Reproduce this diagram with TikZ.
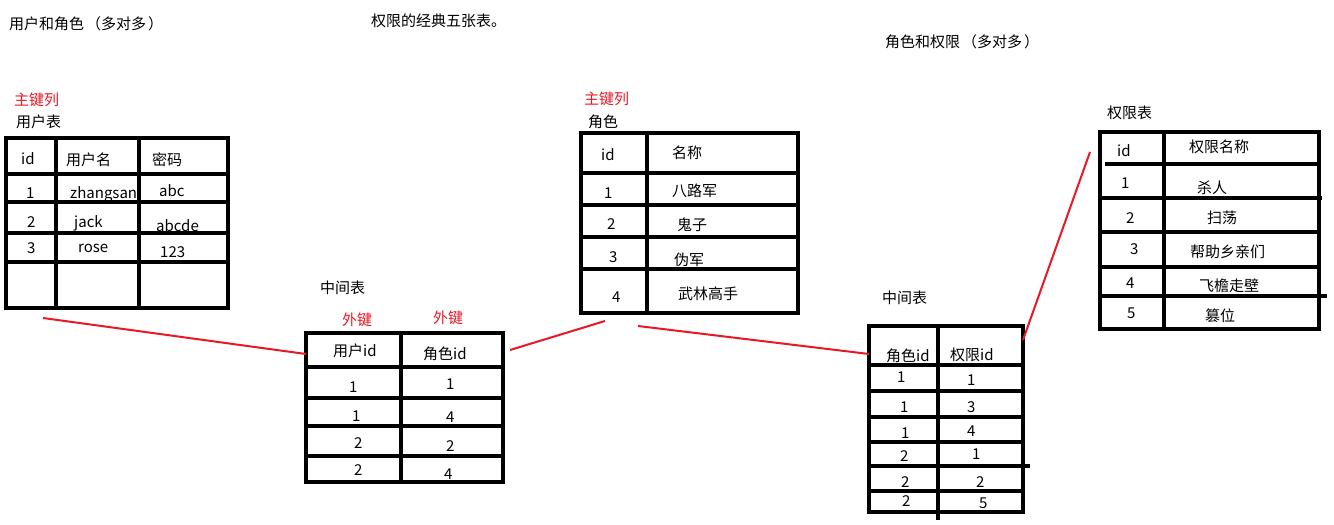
\documentclass[tikz,border=0pt]{standalone}
\usepackage{fontspec}
\setmainfont{Noto Sans CJK SC}
\definecolor{myred}{RGB}{232,24,36}
\begin{document}
\begin{tikzpicture}[x=1pt,y=-1pt,
  tbl/.style={line width=3.5pt},
  conn/.style={draw=myred,line width=2pt},
  lbl/.style={anchor=base west,inner sep=0pt,font=\fontsize{15}{18}\selectfont},
  key/.style={lbl,text=myred}]
\useasboundingbox (0,0) rectangle (1334,525);
% titles
\node[lbl] (t1) at (9,29) {用户和角色\kern2pt（多对多\kern2pt）};
\node[lbl] (t2) at (371,26) {权限的经典五张表。};
\node[lbl] (t3) at (885,47) {角色和权限\kern2pt（多对多\kern2pt）};
% ---------- user table ----------
\node[key] (uk) at (14,105) {主键列};
\node[lbl] (ut) at (16,127) {用户表};
\draw[tbl] (6,138) rectangle (228,308);
\draw[tbl] (56,138) -- (56,308) (139,138) -- (139,308);
\draw[tbl] (6,174) -- (230,174) (6,202) -- (228,202) (6,233) -- (228,233) (6,262) -- (228,262);
\node[lbl] (u00) at (21,164) {id};
\node[lbl] (u01) at (66,165) {用户名};
\node[lbl] (u02) at (152,165) {密码};
\node[lbl] (u10) at (26,198) {1};
\node[lbl] (u11) at (70,198) {zhangsan};
\node[lbl] (u12) at (159,196) {abc};
\node[lbl] (u20) at (27,227) {2};
\node[lbl] (u21) at (74,227) {jack};
\node[lbl] (u22) at (156,231) {abcde};
\node[lbl] (u30) at (27,253) {3};
\node[lbl] (u31) at (78,252) {rose};
\node[lbl] (u32) at (160,257) {123};
% ---------- middle table 1 ----------
\node[lbl] (m1t) at (320,293) {中间表};
\node[key] (m1k1) at (342,325) {外键};
\node[key] (m1k2) at (433,323) {外键};
\draw[tbl] (306,333) rectangle (503,482);
\draw[tbl] (401,333) -- (401,482);
\draw[tbl] (304,367) -- (503,367) (306,398) -- (503,398) (306,426) -- (503,426) (306,456) -- (503,456);
\node[lbl] (a00) at (333,356) {用户id};
\node[lbl] (a01) at (423,359) {角色id};
\node[lbl] (a10) at (349,392) {1};
\node[lbl] (a11) at (446,389) {1};
\node[lbl] (a20) at (352,421) {1};
\node[lbl] (a21) at (446,422) {4};
\node[lbl] (a30) at (354,448) {2};
\node[lbl] (a31) at (446,451) {2};
\node[lbl] (a40) at (354,475) {2};
\node[lbl] (a41) at (444,479) {4};
% ---------- role table ----------
\node[key] (rk) at (584,104) {主键列};
\node[lbl] (rt) at (588,127) {角色};
\draw[tbl] (581,133) rectangle (798,313);
\draw[tbl] (647,133) -- (647,313);
\draw[tbl] (581,173) -- (798,173) (581,205) -- (798,205) (581,237) -- (798,237) (581,269) -- (800,269);
\node[lbl] (r00) at (601,160) {id};
\node[lbl] (r01) at (672,158) {名称};
\node[lbl] (r10) at (604,198) {1};
\node[lbl] (r11) at (672,196) {八路军};
\node[lbl] (r20) at (607,229) {2};
\node[lbl] (r21) at (677,230) {鬼子};
\node[lbl] (r30) at (609,262) {3};
\node[lbl] (r31) at (674,265) {伪军};
\node[lbl] (r40) at (612,302) {4};
\node[lbl] (r41) at (678,299) {武林高手};
% ---------- middle table 2 ----------
\node[lbl] (m2t) at (882,303) {中间表};
\draw[tbl] (869,326) rectangle (1023,512);
\draw[tbl] (938,326) -- (938,520);
\draw[tbl] (869,365) -- (1023,365) (867,391) -- (1023,391) (869,417) -- (1025,417)
  (869,442) -- (1025,442) (869,466) -- (1030,466) (869,491) -- (1025,491);
\node[lbl] (b00) at (886,361) {角色id};
\node[lbl] (b01) at (950,360) {权限id};
\node[lbl] (b10) at (897,382) {1};
\node[lbl] (b11) at (967,385) {1};
\node[lbl] (b20) at (900,412) {1};
\node[lbl] (b21) at (967,412) {3};
\node[lbl] (b30) at (901,438) {1};
\node[lbl] (b31) at (967,436) {4};
\node[lbl] (b40) at (900,461) {2};
\node[lbl] (b41) at (972,459) {1};
\node[lbl] (b50) at (901,487) {2};
\node[lbl] (b51) at (976,487) {2};
\node[lbl] (b60) at (902,506) {2};
\node[lbl] (b61) at (979,508) {5};
% ---------- permission table ----------
\node[lbl] (pt) at (1107,118) {权限表};
\draw[tbl] (1100,132) rectangle (1319,329);
\draw[tbl] (1164,132) -- (1164,329);
\draw[tbl] (1105,164) -- (1319,164) (1102,198) -- (1322,198) (1100,232) -- (1319,232)
  (1100,267) -- (1319,267) (1100,296) -- (1327,296);
\node[lbl] (p00) at (1117,156) {id};
\node[lbl] (p01) at (1189,152) {权限名称};
\node[lbl] (p10) at (1121,188) {1};
\node[lbl] (p11) at (1197,193) {杀人};
\node[lbl] (p20) at (1126,223) {2};
\node[lbl] (p21) at (1207,223) {扫荡};
\node[lbl] (p30) at (1130,254) {3};
\node[lbl] (p31) at (1190,257) {帮助乡亲们};
\node[lbl] (p40) at (1126,288) {4};
\node[lbl] (p41) at (1199,291) {飞檐走壁};
\node[lbl] (p50) at (1127,318) {5};
\node[lbl] (p51) at (1205,321) {篡位};
% ---------- red connectors ----------
\coordinate (c1a) at (43,318);  \coordinate (c1b) at (306,354);
\coordinate (c2a) at (510,350); \coordinate (c2b) at (605,321);
\coordinate (c3a) at (638,326); \coordinate (c3b) at (869,354);
\coordinate (c4a) at (1023,340); \coordinate (c4b) at (1090,152);
\draw[conn] (c1a) -- (c1b);
\draw[conn] (c2a) -- (c2b);
\draw[conn] (c3a) -- (c3b);
\draw[conn] (c4a) -- (c4b);
\end{tikzpicture}
\end{document}
